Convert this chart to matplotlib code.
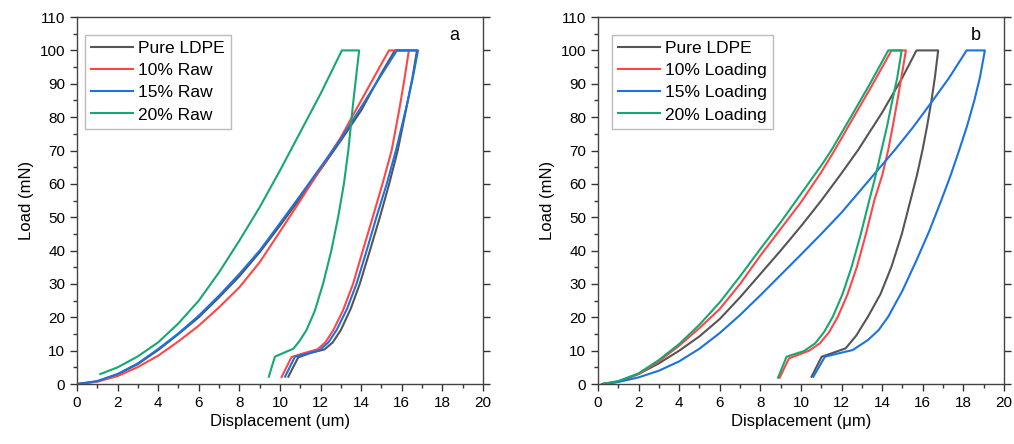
import matplotlib.pyplot as plt
from matplotlib.ticker import MultipleLocator

plt.rcParams['font.family'] = ['Liberation Sans', 'DejaVu Sans']

# ---- panel a: raw fillers (load, hold, unload) ----
a_names = ['Pure LDPE', '10% Raw', '15% Raw', '20% Raw']

a_pure_x = [0, 1, 2, 3, 4, 5, 6, 7, 8, 9, 10, 11, 12, 13, 14, 15, 15.66,
            16.75, 16.53, 16.27, 15.8, 15.38, 14.92, 14.43, 13.93, 13.48, 13.0, 12.6, 12.2, 11.5, 10.9, 10.41]
a_pure_y = [0, 0.8, 2.9, 6, 10.2, 15, 20, 26, 32.3, 39.5, 47.5, 55.8, 64.3, 73, 82, 93.2, 100,
            100, 92, 84, 70, 60, 50, 40, 30, 22.5, 16.2, 12.5, 10.4, 9.3, 8.0, 2.2]

a_r10_x = [0, 1, 2, 3, 4, 5, 6, 7, 8, 9, 10, 11, 12, 13, 14, 15, 15.37,
           16.35, 16.12, 15.87, 15.5, 15.05, 14.57, 14.08, 13.6, 13.1, 12.63, 12.25, 11.85, 11.2, 10.57, 10.08]
a_r10_y = [0, 0.7, 2.4, 5.1, 8.5, 12.8, 17.5, 23, 29, 36.5, 45.7, 55, 64.5, 74, 85, 96, 100,
           100, 91, 82, 70, 60, 50, 40, 30, 22, 16.2, 12.6, 10.4, 9.3, 8.1, 2.1]

a_r15_x = [0, 1, 2, 3, 4, 5, 6, 7, 8, 9, 10, 11, 12, 13, 14, 15, 15.76,
           16.8, 16.55, 16.3, 16.03, 15.72, 15.26, 14.76, 14.27, 13.78, 13.3, 12.79, 12.4, 11.97, 11.4, 10.74, 10.25]
a_r15_y = [0, 0.9, 3.0, 6.2, 10.5, 15.2, 20.5, 26.5, 33, 40, 48.2, 56.5, 65, 73.5, 83, 92.7, 100,
           100, 92, 85, 78, 70.2, 60, 50.2, 40, 30.2, 22.5, 16.2, 12.6, 10.2, 9.2, 8.2, 2.2]

a_r20_x = [1.15, 2, 3, 4, 5, 6, 7, 8, 9, 10, 11, 12, 13.05,
           13.9, 13.75, 13.6, 13.37, 13.15, 12.87, 12.53, 12.13, 11.72, 11.31, 10.95, 10.66, 10.2, 9.75, 9.45]
a_r20_y = [3.0, 5.0, 8.3, 12.5, 18.2, 25, 33.5, 43, 53, 64, 75.5, 87, 100,
           100, 92, 84, 70.2, 60, 50.2, 40, 30.2, 22, 16.2, 12.8, 10.6, 9.4, 8.2, 2.2]

# ---- panel b: loaded fillers ----
b_names = ['Pure LDPE', '10% Loading', '15% Loading', '20% Loading']

b_pure_x = [0.2, 1, 2, 3, 4, 5, 6, 7, 8, 9, 10, 11, 12, 12.82, 14, 15, 15.69,
            16.76, 16.6, 16.43, 16.22, 15.99, 15.71, 15.4, 14.97, 14.46, 13.92, 13.3, 12.72, 12.2, 11.55, 11.02, 10.52]
b_pure_y = [0, 0.7, 3, 6.2, 10, 14.3, 19.5, 26, 33, 40, 47.3, 55, 63.2, 70.2, 81.4, 91.9, 100,
            100, 92, 85, 77.5, 70.2, 62.5, 55.2, 45, 35.2, 27, 20.2, 14.5, 10.7, 9.3, 8.2, 2.2]

b_l10_x = [0.2, 1, 2, 3, 4, 5, 6, 7, 8, 9, 10, 11, 11.67, 12.5, 13.5, 14.46,
           15.17, 14.95, 14.75, 14.53, 14.3, 14.0, 13.62, 13.2, 12.76, 12.3, 11.82, 11.38, 10.93, 10.4, 9.41, 8.95]
b_l10_y = [0, 0.8, 3, 6.8, 11.5, 16.8, 22.5, 30, 38.5, 46.5, 54.5, 63.5, 70.2, 79, 89.5, 100,
           100, 92, 85, 77.5, 70.2, 62.5, 55.2, 45, 35.2, 27, 20.2, 15.5, 12.2, 10.0, 7.7, 1.9]

b_l15_x = [0.2, 1, 2, 3, 4, 5, 6, 7, 8, 9, 10, 11, 12, 13.23, 14.63, 15.5, 16.4, 17.3, 18.16,
           19.06, 18.82, 18.54, 18.19, 17.8, 17.37, 16.92, 16.33, 15.7, 15.0, 14.3, 13.83, 13.3, 12.55, 11.85, 11.18, 10.61]
b_l15_y = [0, 0.6, 2, 4, 6.8, 10.6, 15.3, 20.7, 26.6, 32.7, 38.8, 45, 51.4, 60.2, 70.2, 76.8, 84.2, 91.8, 100,
           100, 92, 85, 77.5, 70.2, 62.5, 55.2, 46, 37.2, 28, 20.2, 16.2, 13.2, 10.2, 9.2, 8.2, 2.2]

b_l20_x = [0.2, 1, 2, 3, 4, 5, 6, 7, 8, 9, 10, 11, 11.51, 12.5, 13.4, 14.3,
           14.96, 14.75, 14.5, 14.25, 13.97, 13.68, 13.37, 12.95, 12.5, 12.05, 11.57, 11.13, 10.7, 10.15, 9.29, 8.87]
b_l20_y = [0, 0.9, 3.2, 7.2, 12, 17.8, 24.5, 32.3, 40.5, 48.5, 57, 65.5, 70.2, 80.5, 90, 100,
           100, 92, 85, 77.5, 70.2, 62.5, 55.2, 45, 35.2, 27, 20.2, 15.5, 12.2, 9.9, 8.2, 1.9]

colors = ['#555555', '#ff4646', '#1a73e0', '#16a870']

fig = plt.figure(figsize=(10.14, 4.44), dpi=100)
ax1 = fig.add_axes([0.0759, 0.135, 0.4004, 0.8266])
ax2 = fig.add_axes([0.5897, 0.135, 0.4004, 0.8266])

a_data = [(a_pure_x, a_pure_y), (a_r10_x, a_r10_y), (a_r15_x, a_r15_y), (a_r20_x, a_r20_y)]
b_data = [(b_pure_x, b_pure_y), (b_l10_x, b_l10_y), (b_l15_x, b_l15_y), (b_l20_x, b_l20_y)]

panels = [(ax1, a_data, a_names, 'a', 'Displacement (um)', 0.02),
          (ax2, b_data, b_names, 'b', 'Displacement (\u03bcm)', 0.034)]

for ax, data, names, letter, xlab, legx in panels:
    for (xs, ys), name, c in zip(data, names, colors):
        ax.plot(xs, ys, color=c, lw=1.5, label=name, solid_joinstyle='round')

    ax.set_xlim(0, 20)
    ax.set_ylim(0, 110)
    ax.xaxis.set_major_locator(MultipleLocator(2))
    ax.xaxis.set_minor_locator(MultipleLocator(1))
    ax.yaxis.set_major_locator(MultipleLocator(10))
    ax.yaxis.set_minor_locator(MultipleLocator(5))
    ax.tick_params(which='both', direction='out', labelsize=11, width=1, color='#333333')
    ax.tick_params(which='major', length=5)
    ax.tick_params(which='minor', length=3)
    ax.tick_params(axis='y', which='major', right=True)
    for sp in ax.spines.values():
        sp.set_color('#444444')
        sp.set_linewidth(1.0)

    ax.set_xlabel(xlab, fontsize=12, labelpad=3)
    ax.set_ylabel('Load (mN)', fontsize=12, labelpad=4)
    ax.text(0.93, 0.95, letter, transform=ax.transAxes, fontsize=13, ha='center', va='center')

    leg = ax.legend(loc='upper left', bbox_to_anchor=(legx, 0.951), fontsize=12.5,
                    frameon=True, fancybox=False, edgecolor='#aaaaaa',
                    handlelength=2.4, handletextpad=0.3, labelspacing=0.4,
                    borderpad=0.35, borderaxespad=0)
    leg.get_frame().set_linewidth(1.0)

fig.savefig('out.png', dpi=100)
